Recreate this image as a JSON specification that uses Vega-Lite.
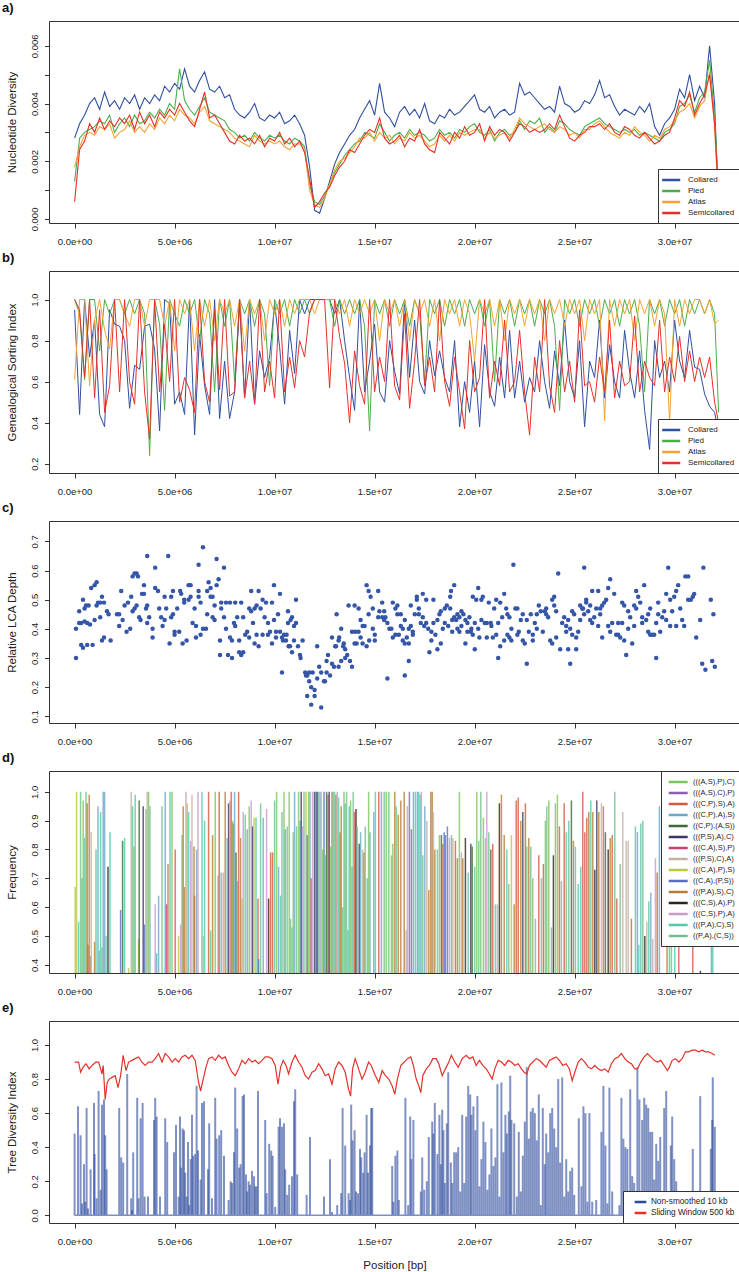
{
"$schema":"https://vega.github.io/schema/vega-lite/v6.json",
"background":"white",
"padding":{"left":1,"top":1,"right":0,"bottom":0},
"bounds":"flush",
"spacing":48,
"resolve":{"scale":{"color":"independent"},"legend":{"color":"independent"}},
"config":{
"font":"Liberation Sans",
"view":{"stroke":"#333","strokeWidth":1},
"axis":{"domain":false,"grid":false,"tickColor":"#333","labelColor":"#222","titleColor":"#222","labelFontSize":9.5,"titleFontSize":11.5,"titleFontWeight":"normal"},
"axisX":{"tickSize":5,"labelPadding":8,"titlePadding":14,"labelFlush":false,"labelOverlap":false},
"axisY":{"tickSize":4.5,"labelPadding":5,"labelAngle":-90,"labelAlign":"center","labelBaseline":"bottom","titlePadding":12,"labelOverlap":false,"labelFlush":false},
"title":{"fontSize":13,"fontWeight":"bold","anchor":"start","frame":"group","baseline":"alphabetic","offset":6,"color":"#111"},
"legend":{"strokeColor":"#333","fillColor":"white","padding":5,"labelFontSize":8,"labelColor":"#222","symbolSize":90,"symbolStrokeWidth":2.5,"rowPadding":-1.8,"offset":0,"symbolOpacity":1,"labelLimit":300}
},
"vconcat":[
{
"width":691,"height":202,
"title":{"text":"a)","dx":-47},
"data":{"values":[
{"x":0,"C":0.0028,"P":0.0013,"A":0.0018,"S":0.0006},
{"x":0.25,"C":0.0033,"P":0.0028,"A":0.0025,"S":0.0024},
{"x":0.5,"C":0.0036,"P":0.003,"A":0.0029,"S":0.0027},
{"x":0.75,"C":0.004,"P":0.0031,"A":0.003,"S":0.0033},
{"x":1,"C":0.0042,"P":0.0032,"A":0.0029,"S":0.003},
{"x":1.25,"C":0.0038,"P":0.0034,"A":0.0032,"S":0.0035},
{"x":1.5,"C":0.0044,"P":0.0033,"A":0.0031,"S":0.0031},
{"x":1.75,"C":0.0039,"P":0.0036,"A":0.0033,"S":0.0034},
{"x":2,"C":0.0041,"P":0.003,"A":0.0028,"S":0.0032},
{"x":2.25,"C":0.0038,"P":0.0033,"A":0.003,"S":0.0035},
{"x":2.5,"C":0.0042,"P":0.0035,"A":0.0031,"S":0.0033},
{"x":2.75,"C":0.004,"P":0.0032,"A":0.0034,"S":0.0036},
{"x":3,"C":0.0043,"P":0.0036,"A":0.003,"S":0.0031},
{"x":3.25,"C":0.0038,"P":0.0033,"A":0.0032,"S":0.0037},
{"x":3.5,"C":0.0042,"P":0.0034,"A":0.003,"S":0.0033},
{"x":3.75,"C":0.004,"P":0.0037,"A":0.0033,"S":0.0036},
{"x":4,"C":0.0043,"P":0.0035,"A":0.0031,"S":0.0032},
{"x":4.25,"C":0.0041,"P":0.0038,"A":0.0035,"S":0.0037},
{"x":4.5,"C":0.0046,"P":0.0036,"A":0.0033,"S":0.0035},
{"x":4.75,"C":0.0044,"P":0.004,"A":0.0036,"S":0.0038},
{"x":5,"C":0.0047,"P":0.0038,"A":0.0034,"S":0.0036},
{"x":5.25,"C":0.0045,"P":0.0052,"A":0.0038,"S":0.004},
{"x":5.5,"C":0.0052,"P":0.0041,"A":0.0036,"S":0.0037},
{"x":5.75,"C":0.0046,"P":0.0038,"A":0.0035,"S":0.0034},
{"x":6,"C":0.0044,"P":0.0036,"A":0.0033,"S":0.0032},
{"x":6.25,"C":0.0048,"P":0.0039,"A":0.0037,"S":0.0038},
{"x":6.5,"C":0.0051,"P":0.0042,"A":0.0039,"S":0.0044},
{"x":6.75,"C":0.0045,"P":0.0037,"A":0.0034,"S":0.0035},
{"x":7,"C":0.0044,"P":0.0036,"A":0.0033,"S":0.0036},
{"x":7.25,"C":0.0046,"P":0.0035,"A":0.0032,"S":0.0033},
{"x":7.5,"C":0.0042,"P":0.0034,"A":0.0031,"S":0.003},
{"x":7.75,"C":0.0043,"P":0.0031,"A":0.003,"S":0.0027},
{"x":8,"C":0.0038,"P":0.003,"A":0.0028,"S":0.0026},
{"x":8.25,"C":0.0036,"P":0.0028,"A":0.0027,"S":0.0029},
{"x":8.5,"C":0.0035,"P":0.0029,"A":0.0026,"S":0.0027},
{"x":8.75,"C":0.0037,"P":0.0027,"A":0.0025,"S":0.0028},
{"x":9,"C":0.004,"P":0.003,"A":0.0029,"S":0.0026},
{"x":9.25,"C":0.0035,"P":0.0028,"A":0.0027,"S":0.0029},
{"x":9.5,"C":0.0034,"P":0.0027,"A":0.0026,"S":0.0025},
{"x":9.75,"C":0.0036,"P":0.0029,"A":0.0027,"S":0.0028},
{"x":10,"C":0.0035,"P":0.0028,"A":0.0026,"S":0.0027},
{"x":10.25,"C":0.0037,"P":0.0029,"A":0.0027,"S":0.003},
{"x":10.5,"C":0.0033,"P":0.0027,"A":0.0025,"S":0.0026},
{"x":10.75,"C":0.0034,"P":0.0026,"A":0.0024,"S":0.0028},
{"x":11,"C":0.0036,"P":0.0028,"A":0.0026,"S":0.0025},
{"x":11.25,"C":0.0033,"P":0.0027,"A":0.0026,"S":0.0027},
{"x":11.5,"C":0.0029,"P":0.0025,"A":0.0024,"S":0.0023},
{"x":11.75,"C":0.0018,"P":0.0012,"A":0.001,"S":0.0014},
{"x":12,"C":0.0003,"P":0.0006,"A":0.0005,"S":0.0004},
{"x":12.25,"C":0.0002,"P":0.0005,"A":0.0004,"S":0.0006},
{"x":12.5,"C":0.0007,"P":0.0008,"A":0.0007,"S":0.0009},
{"x":12.75,"C":0.0013,"P":0.0012,"A":0.0012,"S":0.0011},
{"x":13,"C":0.0019,"P":0.0016,"A":0.0017,"S":0.0015},
{"x":13.25,"C":0.0023,"P":0.0019,"A":0.002,"S":0.0018},
{"x":13.5,"C":0.0026,"P":0.0022,"A":0.0021,"S":0.002},
{"x":13.75,"C":0.0029,"P":0.0024,"A":0.0023,"S":0.0024},
{"x":14,"C":0.0031,"P":0.0026,"A":0.0025,"S":0.0023},
{"x":14.25,"C":0.0035,"P":0.0027,"A":0.0028,"S":0.0026},
{"x":14.5,"C":0.0038,"P":0.003,"A":0.0028,"S":0.0029},
{"x":14.75,"C":0.0041,"P":0.0029,"A":0.003,"S":0.0031},
{"x":15,"C":0.0036,"P":0.0028,"A":0.0027,"S":0.003},
{"x":15.25,"C":0.0047,"P":0.0033,"A":0.003,"S":0.0035},
{"x":15.5,"C":0.0037,"P":0.003,"A":0.0028,"S":0.0028},
{"x":15.75,"C":0.0035,"P":0.0027,"A":0.0029,"S":0.0026},
{"x":16,"C":0.0032,"P":0.0029,"A":0.0026,"S":0.0027},
{"x":16.25,"C":0.0037,"P":0.003,"A":0.0028,"S":0.0029},
{"x":16.5,"C":0.0039,"P":0.0028,"A":0.0027,"S":0.0025},
{"x":16.75,"C":0.0036,"P":0.0031,"A":0.003,"S":0.0028},
{"x":17,"C":0.0038,"P":0.0029,"A":0.0028,"S":0.0027},
{"x":17.25,"C":0.0035,"P":0.003,"A":0.0029,"S":0.0031},
{"x":17.5,"C":0.004,"P":0.0029,"A":0.0027,"S":0.0026},
{"x":17.75,"C":0.0034,"P":0.0027,"A":0.0025,"S":0.0024},
{"x":18,"C":0.0033,"P":0.0028,"A":0.0026,"S":0.0023},
{"x":18.25,"C":0.0036,"P":0.0031,"A":0.0029,"S":0.003},
{"x":18.5,"C":0.0035,"P":0.0029,"A":0.0027,"S":0.0028},
{"x":18.75,"C":0.0038,"P":0.003,"A":0.0029,"S":0.0026},
{"x":19,"C":0.0036,"P":0.0028,"A":0.0027,"S":0.003},
{"x":19.25,"C":0.0037,"P":0.0031,"A":0.003,"S":0.0028},
{"x":19.5,"C":0.0039,"P":0.003,"A":0.0029,"S":0.0032},
{"x":19.75,"C":0.0041,"P":0.0032,"A":0.003,"S":0.0029},
{"x":20,"C":0.0043,"P":0.0033,"A":0.0031,"S":0.003},
{"x":20.25,"C":0.0038,"P":0.003,"A":0.0031,"S":0.0033},
{"x":20.5,"C":0.0037,"P":0.0029,"A":0.0028,"S":0.0027},
{"x":20.75,"C":0.0039,"P":0.0031,"A":0.003,"S":0.0032},
{"x":21,"C":0.0035,"P":0.0027,"A":0.0028,"S":0.0029},
{"x":21.25,"C":0.0037,"P":0.003,"A":0.0029,"S":0.0031},
{"x":21.5,"C":0.0038,"P":0.0031,"A":0.003,"S":0.003},
{"x":21.75,"C":0.0036,"P":0.0029,"A":0.0028,"S":0.0027},
{"x":22,"C":0.0037,"P":0.003,"A":0.0031,"S":0.003},
{"x":22.25,"C":0.0047,"P":0.0034,"A":0.0035,"S":0.0033},
{"x":22.5,"C":0.0043,"P":0.0031,"A":0.0033,"S":0.0032},
{"x":22.75,"C":0.0044,"P":0.0034,"A":0.0032,"S":0.003},
{"x":23,"C":0.0042,"P":0.0033,"A":0.0031,"S":0.0031},
{"x":23.25,"C":0.004,"P":0.0035,"A":0.0032,"S":0.003},
{"x":23.5,"C":0.0038,"P":0.003,"A":0.0033,"S":0.0031},
{"x":23.75,"C":0.0039,"P":0.0032,"A":0.0031,"S":0.0033},
{"x":24,"C":0.0037,"P":0.003,"A":0.003,"S":0.0031},
{"x":24.25,"C":0.0046,"P":0.0034,"A":0.0032,"S":0.0036},
{"x":24.5,"C":0.004,"P":0.0033,"A":0.0031,"S":0.0032},
{"x":24.75,"C":0.0039,"P":0.0031,"A":0.0029,"S":0.0028},
{"x":25,"C":0.0037,"P":0.003,"A":0.003,"S":0.0027},
{"x":25.25,"C":0.0038,"P":0.0029,"A":0.0028,"S":0.0029},
{"x":25.5,"C":0.0041,"P":0.0032,"A":0.0031,"S":0.003},
{"x":25.75,"C":0.004,"P":0.0033,"A":0.0031,"S":0.0032},
{"x":26,"C":0.0043,"P":0.0034,"A":0.0033,"S":0.0032},
{"x":26.25,"C":0.0048,"P":0.0035,"A":0.0034,"S":0.0033},
{"x":26.5,"C":0.0042,"P":0.0033,"A":0.0032,"S":0.0031},
{"x":26.75,"C":0.0043,"P":0.0032,"A":0.003,"S":0.0033},
{"x":27,"C":0.0039,"P":0.0031,"A":0.0029,"S":0.003},
{"x":27.25,"C":0.0036,"P":0.003,"A":0.0028,"S":0.0029},
{"x":27.5,"C":0.0038,"P":0.0031,"A":0.003,"S":0.0032},
{"x":27.75,"C":0.0037,"P":0.003,"A":0.0029,"S":0.0031},
{"x":28,"C":0.0036,"P":0.0031,"A":0.0032,"S":0.0029},
{"x":28.25,"C":0.0039,"P":0.0029,"A":0.003,"S":0.0028},
{"x":28.5,"C":0.0037,"P":0.003,"A":0.0029,"S":0.003},
{"x":28.75,"C":0.004,"P":0.0029,"A":0.0027,"S":0.0028},
{"x":29,"C":0.0032,"P":0.0028,"A":0.0029,"S":0.0026},
{"x":29.25,"C":0.0029,"P":0.0027,"A":0.0028,"S":0.0027},
{"x":29.5,"C":0.0033,"P":0.003,"A":0.0031,"S":0.0029},
{"x":29.75,"C":0.0035,"P":0.0031,"A":0.0032,"S":0.003},
{"x":30,"C":0.0038,"P":0.0033,"A":0.0034,"S":0.0035},
{"x":30.25,"C":0.0045,"P":0.0039,"A":0.0037,"S":0.0041},
{"x":30.5,"C":0.0042,"P":0.004,"A":0.0038,"S":0.0039},
{"x":30.75,"C":0.005,"P":0.0043,"A":0.004,"S":0.0044},
{"x":31,"C":0.0041,"P":0.0037,"A":0.0035,"S":0.0036},
{"x":31.25,"C":0.0046,"P":0.0042,"A":0.0039,"S":0.004},
{"x":31.5,"C":0.0042,"P":0.0044,"A":0.0041,"S":0.0043},
{"x":31.75,"C":0.006,"P":0.0055,"A":0.0051,"S":0.005},
{"x":32,"C":0.004,"P":0.0035,"A":0.0032,"S":0.0033},
{"x":32.2,"C":0.0003,"P":0.001,"A":0.0003,"S":0.0008}
]},
"transform":[{"fold":["C","P","A","S"],"as":["k","v"]}],
"mark":{"type":"line","strokeWidth":1.1,"clip":true},
"encoding":{
"x":{"field":"x","type":"quantitative","scale":{"domain":[-1.28,33.27],"nice":false,"zero":false},"axis":{"title":null,"values":[0,5,10,15,20,25,30],"labelExpr":"replace(format(datum.value*1000000,'.1e'),'e+','e+0')"}},
"y":{"field":"v","type":"quantitative","scale":{"domain":[-0.00014,0.00686],"nice":false,"zero":false},"axis":{"title":"Nucleotide Diversity","values":[0,0.001,0.002,0.003,0.004,0.005,0.006],"labelExpr":"round(datum.value*1000)%2==0?format(datum.value,'.3f'):''"}},
"color":{"field":"k","type":"nominal","scale":{"domain":["C","P","A","S"],"range":["#2f4f9f","#4cae4a","#f4a332","#e6302b"]},"legend":{"title":null,"orient":"bottom-right","symbolType":"M-1.9,0H1.9","symbolOffset":2.2,"labelOffset":10.8,"labelExpr":"datum.value=='C'?'Collared':datum.value=='P'?'Pied':datum.value=='A'?'Atlas':'Semicollared'"}}
}
},
{
"width":691,"height":202,
"title":{"text":"b)","dx":-47},
"data":{"values":[
{"x":0,"C":0.95,"P":1,"A":0.61,"S":1},
{"x":0.25,"C":0.44,"P":0.93,"A":1,"S":0.95},
{"x":0.5,"C":1,"P":0.61,"A":1,"S":0.62},
{"x":0.75,"C":0.72,"P":1,"A":0.58,"S":1},
{"x":1,"C":0.9,"P":1,"A":0.9,"S":0.52},
{"x":1.25,"C":0.44,"P":0.75,"A":1,"S":0.95},
{"x":1.5,"C":0.38,"P":1,"A":0.85,"S":0.45},
{"x":1.75,"C":0.95,"P":0.93,"A":0.76,"S":0.58},
{"x":2,"C":0.88,"P":1,"A":1,"S":1},
{"x":2.25,"C":0.87,"P":1,"A":1,"S":0.55},
{"x":2.5,"C":0.8,"P":0.93,"A":0.93,"S":1},
{"x":2.75,"C":0.47,"P":1,"A":0.87,"S":0.6},
{"x":3,"C":0.68,"P":0.93,"A":1,"S":0.49},
{"x":3.25,"C":0.66,"P":1,"A":1,"S":1},
{"x":3.5,"C":0.87,"P":0.93,"A":0.87,"S":0.55},
{"x":3.75,"C":0.88,"P":0.24,"A":1,"S":0.32},
{"x":4,"C":0.76,"P":1,"A":1,"S":1},
{"x":4.25,"C":0.36,"P":0.88,"A":1,"S":0.55},
{"x":4.5,"C":1,"P":0.46,"A":0.87,"S":0.88},
{"x":4.75,"C":0.98,"P":1,"A":1,"S":0.6},
{"x":5,"C":0.49,"P":0.93,"A":0.75,"S":1},
{"x":5.25,"C":0.55,"P":0.87,"A":1,"S":0.5},
{"x":5.5,"C":0.44,"P":1,"A":0.93,"S":0.62},
{"x":5.75,"C":1,"P":0.93,"A":1,"S":0.56},
{"x":6,"C":0.34,"P":1,"A":0.75,"S":0.45},
{"x":6.25,"C":0.83,"P":0.8,"A":1,"S":1},
{"x":6.5,"C":0.58,"P":1,"A":0.87,"S":0.6},
{"x":6.75,"C":0.44,"P":0.93,"A":1,"S":0.5},
{"x":7,"C":1,"P":0.55,"A":0.8,"S":0.95},
{"x":7.25,"C":0.42,"P":1,"A":1,"S":0.56},
{"x":7.5,"C":0.7,"P":0.87,"A":0.93,"S":1},
{"x":7.75,"C":0.42,"P":1,"A":1,"S":0.53},
{"x":8,"C":0.55,"P":0.6,"A":0.87,"S":0.55},
{"x":8.25,"C":0.98,"P":1,"A":1,"S":1},
{"x":8.5,"C":0.52,"P":0.93,"A":0.75,"S":0.52},
{"x":8.75,"C":1,"P":1,"A":1,"S":0.7},
{"x":9,"C":0.49,"P":0.87,"A":0.93,"S":0.49},
{"x":9.25,"C":0.75,"P":1,"A":1,"S":1},
{"x":9.5,"C":0.62,"P":0.93,"A":0.8,"S":0.55},
{"x":9.75,"C":0.72,"P":0.58,"A":1,"S":0.7},
{"x":10,"C":0.98,"P":1,"A":0.93,"S":0.52},
{"x":10.25,"C":0.77,"P":0.93,"A":1,"S":1},
{"x":10.5,"C":0.49,"P":1,"A":0.87,"S":0.55},
{"x":10.75,"C":0.85,"P":0.87,"A":1,"S":0.72},
{"x":11,"C":0.64,"P":1,"A":0.93,"S":0.57},
{"x":11.25,"C":1,"P":0.93,"A":1,"S":0.8},
{"x":11.5,"C":0.93,"P":1,"A":1,"S":0.72},
{"x":11.75,"C":1,"P":0.93,"A":1,"S":0.94},
{"x":12,"C":1,"P":1,"A":0.93,"S":1},
{"x":12.25,"C":1,"P":1,"A":1,"S":1},
{"x":12.5,"C":1,"P":1,"A":1,"S":1},
{"x":12.75,"C":1,"P":1,"A":1,"S":0.57},
{"x":13,"C":0.93,"P":0.87,"A":1,"S":1},
{"x":13.25,"C":1,"P":1,"A":0.93,"S":0.82},
{"x":13.5,"C":0.8,"P":0.93,"A":1,"S":0.69},
{"x":13.75,"C":0.62,"P":1,"A":0.87,"S":0.4},
{"x":14,"C":0.46,"P":0.93,"A":1,"S":0.75},
{"x":14.25,"C":1,"P":1,"A":0.93,"S":0.58},
{"x":14.5,"C":0.55,"P":0.87,"A":1,"S":0.49},
{"x":14.75,"C":0.7,"P":0.36,"A":0.93,"S":1},
{"x":15,"C":0.88,"P":1,"A":1,"S":0.55},
{"x":15.25,"C":0.55,"P":0.93,"A":0.8,"S":0.72},
{"x":15.5,"C":0.5,"P":1,"A":1,"S":0.6},
{"x":15.75,"C":0.8,"P":0.87,"A":0.93,"S":1},
{"x":16,"C":0.65,"P":1,"A":1,"S":0.58},
{"x":16.25,"C":0.54,"P":0.93,"A":0.87,"S":0.51},
{"x":16.5,"C":1,"P":1,"A":1,"S":0.93},
{"x":16.75,"C":0.62,"P":0.87,"A":0.8,"S":0.47},
{"x":17,"C":0.9,"P":1,"A":1,"S":0.7},
{"x":17.25,"C":0.6,"P":0.93,"A":0.93,"S":1},
{"x":17.5,"C":0.54,"P":0.6,"A":1,"S":0.58},
{"x":17.75,"C":0.8,"P":1,"A":0.87,"S":0.72},
{"x":18,"C":0.63,"P":0.93,"A":1,"S":0.55},
{"x":18.25,"C":0.75,"P":1,"A":0.8,"S":1},
{"x":18.5,"C":0.62,"P":0.87,"A":1,"S":0.6},
{"x":18.75,"C":0.55,"P":1,"A":0.93,"S":0.48},
{"x":19,"C":0.8,"P":0.93,"A":1,"S":0.72},
{"x":19.25,"C":0.38,"P":1,"A":0.87,"S":0.55},
{"x":19.5,"C":0.6,"P":0.87,"A":1,"S":0.37},
{"x":19.75,"C":0.45,"P":1,"A":0.93,"S":0.8},
{"x":20,"C":0.7,"P":0.93,"A":0.7,"S":0.55},
{"x":20.25,"C":0.38,"P":1,"A":1,"S":0.62},
{"x":20.5,"C":0.78,"P":0.87,"A":0.93,"S":1},
{"x":20.75,"C":0.55,"P":1,"A":1,"S":0.52},
{"x":21,"C":0.48,"P":0.6,"A":0.87,"S":0.7},
{"x":21.25,"C":0.72,"P":1,"A":1,"S":0.58},
{"x":21.5,"C":0.52,"P":0.93,"A":0.8,"S":0.9},
{"x":21.75,"C":0.85,"P":1,"A":1,"S":0.55},
{"x":22,"C":0.52,"P":0.87,"A":0.93,"S":0.6},
{"x":22.25,"C":0.7,"P":1,"A":1,"S":0.85},
{"x":22.5,"C":0.5,"P":0.93,"A":0.87,"S":0.55},
{"x":22.75,"C":0.62,"P":1,"A":1,"S":0.34},
{"x":23,"C":0.55,"P":0.87,"A":0.93,"S":0.72},
{"x":23.25,"C":0.8,"P":1,"A":1,"S":0.55},
{"x":23.5,"C":0.6,"P":0.93,"A":0.8,"S":1},
{"x":23.75,"C":0.47,"P":1,"A":1,"S":0.58},
{"x":24,"C":0.75,"P":0.87,"A":0.93,"S":0.45},
{"x":24.25,"C":0.58,"P":0.46,"A":1,"S":0.8},
{"x":24.5,"C":0.9,"P":1,"A":0.87,"S":0.55},
{"x":24.75,"C":0.6,"P":0.93,"A":1,"S":0.7},
{"x":25,"C":0.52,"P":1,"A":0.93,"S":0.5},
{"x":25.25,"C":0.8,"P":0.87,"A":1,"S":0.95},
{"x":25.5,"C":0.38,"P":1,"A":0.8,"S":0.58},
{"x":25.75,"C":0.7,"P":0.93,"A":1,"S":0.6},
{"x":26,"C":0.62,"P":1,"A":0.93,"S":0.5},
{"x":26.25,"C":0.9,"P":0.87,"A":1,"S":0.72},
{"x":26.5,"C":0.52,"P":1,"A":0.41,"S":0.55},
{"x":26.75,"C":0.78,"P":0.93,"A":1,"S":0.9},
{"x":27,"C":0.6,"P":1,"A":0.87,"S":0.52},
{"x":27.25,"C":0.52,"P":0.87,"A":1,"S":0.7},
{"x":27.5,"C":0.85,"P":1,"A":0.93,"S":0.58},
{"x":27.75,"C":0.65,"P":0.93,"A":1,"S":0.6},
{"x":28,"C":0.52,"P":1,"A":0.8,"S":0.92},
{"x":28.25,"C":0.75,"P":0.87,"A":1,"S":0.55},
{"x":28.5,"C":0.46,"P":0.55,"A":0.93,"S":0.7},
{"x":28.75,"C":0.27,"P":1,"A":1,"S":0.62},
{"x":29,"C":0.8,"P":0.93,"A":0.87,"S":0.58},
{"x":29.25,"C":0.62,"P":1,"A":1,"S":0.9},
{"x":29.5,"C":0.7,"P":0.87,"A":0.93,"S":0.55},
{"x":29.75,"C":0.55,"P":1,"A":0.4,"S":0.72},
{"x":30,"C":0.9,"P":0.93,"A":1,"S":0.6},
{"x":30.25,"C":0.7,"P":1,"A":0.87,"S":0.82},
{"x":30.5,"C":0.62,"P":0.87,"A":1,"S":0.6},
{"x":30.75,"C":0.85,"P":1,"A":0.93,"S":0.75},
{"x":31,"C":0.67,"P":0.93,"A":1,"S":0.6},
{"x":31.25,"C":0.66,"P":1,"A":1,"S":0.72},
{"x":31.5,"C":0.54,"P":0.93,"A":0.93,"S":0.62},
{"x":31.75,"C":0.48,"P":1,"A":1,"S":0.72},
{"x":32,"C":0.45,"P":0.93,"A":0.88,"S":0.5},
{"x":32.2,"C":0.36,"P":0.45,"A":0.9,"S":0.4}
]},
"transform":[{"fold":["C","P","A","S"],"as":["k","v"]}],
"mark":{"type":"line","strokeWidth":1,"clip":true},
"encoding":{
"x":{"field":"x","type":"quantitative","scale":{"domain":[-1.28,33.27],"nice":false,"zero":false},"axis":{"title":null,"values":[0,5,10,15,20,25,30],"labelExpr":"replace(format(datum.value*1000000,'.1e'),'e+','e+0')"}},
"y":{"field":"v","type":"quantitative","scale":{"domain":[0.155,1.139],"nice":false,"zero":false},"axis":{"title":"Genealogical Sorting Index","values":[0.2,0.4,0.6,0.8,1.0],"format":".1f"}},
"color":{"field":"k","type":"nominal","scale":{"domain":["C","P","A","S"],"range":["#2f4f9f","#4cae4a","#f4a332","#e6302b"]},"legend":{"title":null,"orient":"bottom-right","symbolType":"M-1.9,0H1.9","symbolOffset":2.2,"labelOffset":10.8,"labelExpr":"datum.value=='C'?'Collared':datum.value=='P'?'Pied':datum.value=='A'?'Atlas':'Semicollared'"}}
}
},
{
"width":691,"height":202,
"title":{"text":"c)","dx":-47},
"data":{"values":[
{"x":0.07,"y":0.40},{"x":0.07,"y":0.30},{"x":0.23,"y":0.42},{"x":0.23,"y":0.46},{"x":0.33,"y":0.345},{"x":0.33,"y":0.42},{"x":0.42,"y":0.335},{"x":0.42,"y":0.50},{"x":0.5,"y":0.425},{"x":0.5,"y":0.47},{"x":0.57,"y":0.48},{"x":0.63,"y":0.42},{"x":0.63,"y":0.345},{"x":0.7,"y":0.48},{"x":0.77,"y":0.415},{"x":0.83,"y":0.54},{"x":0.9,"y":0.345},{"x":1.0,"y":0.43},{"x":1.0,"y":0.55},{"x":1.1,"y":0.48},{"x":1.1,"y":0.56},{"x":1.17,"y":0.49},{"x":1.28,"y":0.44},{"x":1.28,"y":0.49},{"x":1.37,"y":0.36},{"x":1.37,"y":0.51},{"x":1.47,"y":0.37},{"x":1.47,"y":0.49},{"x":1.62,"y":0.46},{"x":1.7,"y":0.45},{"x":1.8,"y":0.36},{"x":2.12,"y":0.45},{"x":2.23,"y":0.41},{"x":2.23,"y":0.45},{"x":2.33,"y":0.53},{"x":2.4,"y":0.43},{"x":2.5,"y":0.48},{"x":2.6,"y":0.39},{"x":2.67,"y":0.49},{"x":2.78,"y":0.40},{"x":2.83,"y":0.51},{"x":2.9,"y":0.58},{"x":2.9,"y":0.46},{"x":3.0,"y":0.59},{"x":3.0,"y":0.47},{"x":3.1,"y":0.59},{"x":3.1,"y":0.48},{"x":3.17,"y":0.58},{"x":3.23,"y":0.44},{"x":3.3,"y":0.43},{"x":3.37,"y":0.52},{"x":3.47,"y":0.52},{"x":3.47,"y":0.55},{"x":3.57,"y":0.47},{"x":3.63,"y":0.65},{"x":3.63,"y":0.42},{"x":3.63,"y":0.48},{"x":3.73,"y":0.44},{"x":3.9,"y":0.37},{"x":3.9,"y":0.40},{"x":4.03,"y":0.61},{"x":4.03,"y":0.54},{"x":4.17,"y":0.53},{"x":4.23,"y":0.47},{"x":4.33,"y":0.44},{"x":4.4,"y":0.41},{"x":4.5,"y":0.51},{"x":4.5,"y":0.43},{"x":4.58,"y":0.47},{"x":4.68,"y":0.65},{"x":4.75,"y":0.35},{"x":4.83,"y":0.51},{"x":4.83,"y":0.44},{"x":4.92,"y":0.53},{"x":4.92,"y":0.45},{"x":5.0,"y":0.39},{"x":5.0,"y":0.38},{"x":5.13,"y":0.47},{"x":5.23,"y":0.39},{"x":5.28,"y":0.53},{"x":5.33,"y":0.52},{"x":5.4,"y":0.35},{"x":5.48,"y":0.50},{"x":5.48,"y":0.49},{"x":5.6,"y":0.36},{"x":5.7,"y":0.50},{"x":5.7,"y":0.55},{"x":5.8,"y":0.51},{"x":5.8,"y":0.55},{"x":5.9,"y":0.42},{"x":6.0,"y":0.47},{"x":6.07,"y":0.37},{"x":6.07,"y":0.41},{"x":6.2,"y":0.62},{"x":6.2,"y":0.53},{"x":6.2,"y":0.51},{"x":6.3,"y":0.38},{"x":6.3,"y":0.49},{"x":6.42,"y":0.68},{"x":6.42,"y":0.40},{"x":6.57,"y":0.40},{"x":6.63,"y":0.45},{"x":6.63,"y":0.53},{"x":6.7,"y":0.56},{"x":6.8,"y":0.51},{"x":6.8,"y":0.54},{"x":6.9,"y":0.44},{"x":6.9,"y":0.51},{"x":7.0,"y":0.48},{"x":7.0,"y":0.43},{"x":7.1,"y":0.64},{"x":7.1,"y":0.55},{"x":7.2,"y":0.57},{"x":7.27,"y":0.31},{"x":7.27,"y":0.36},{"x":7.33,"y":0.47},{"x":7.33,"y":0.49},{"x":7.47,"y":0.61},{"x":7.47,"y":0.44},{"x":7.57,"y":0.40},{"x":7.57,"y":0.49},{"x":7.67,"y":0.31},{"x":7.77,"y":0.37},{"x":7.77,"y":0.49},{"x":7.87,"y":0.30},{"x":7.87,"y":0.36},{"x":7.97,"y":0.42},{"x":8.03,"y":0.49},{"x":8.03,"y":0.41},{"x":8.13,"y":0.44},{"x":8.23,"y":0.32},{"x":8.23,"y":0.36},{"x":8.33,"y":0.31},{"x":8.33,"y":0.49},{"x":8.43,"y":0.32},{"x":8.43,"y":0.44},{"x":8.53,"y":0.38},{"x":8.63,"y":0.39},{"x":8.73,"y":0.47},{"x":8.73,"y":0.37},{"x":8.83,"y":0.46},{"x":8.83,"y":0.53},{"x":8.92,"y":0.42},{"x":9.0,"y":0.35},{"x":9.0,"y":0.47},{"x":9.1,"y":0.48},{"x":9.1,"y":0.38},{"x":9.2,"y":0.34},{"x":9.2,"y":0.53},{"x":9.3,"y":0.47},{"x":9.4,"y":0.38},{"x":9.4,"y":0.50},{"x":9.5,"y":0.44},{"x":9.57,"y":0.49},{"x":9.67,"y":0.38},{"x":9.67,"y":0.42},{"x":9.77,"y":0.39},{"x":9.87,"y":0.49},{"x":9.87,"y":0.35},{"x":9.97,"y":0.55},{"x":9.97,"y":0.43},{"x":10.07,"y":0.39},{"x":10.07,"y":0.37},{"x":10.17,"y":0.45},{"x":10.27,"y":0.52},{"x":10.27,"y":0.39},{"x":10.37,"y":0.25},{"x":10.37,"y":0.37},{"x":10.42,"y":0.36},{"x":10.47,"y":0.38},{"x":10.57,"y":0.36},{"x":10.6,"y":0.38},{"x":10.67,"y":0.46},{"x":10.67,"y":0.42},{"x":10.7,"y":0.34},{"x":10.77,"y":0.34},{"x":10.8,"y":0.43},{"x":10.87,"y":0.32},{"x":10.87,"y":0.44},{"x":10.97,"y":0.36},{"x":10.97,"y":0.41},{"x":11.07,"y":0.50},{"x":11.07,"y":0.42},{"x":11.17,"y":0.34},{"x":11.27,"y":0.31},{"x":11.3,"y":0.30},{"x":11.4,"y":0.36},{"x":11.53,"y":0.25},{"x":11.57,"y":0.24},{"x":11.63,"y":0.17},{"x":11.63,"y":0.24},{"x":11.73,"y":0.25},{"x":11.73,"y":0.22},{"x":11.83,"y":0.20},{"x":11.83,"y":0.14},{"x":11.9,"y":0.25},{"x":12.0,"y":0.19},{"x":12.0,"y":0.17},{"x":12.13,"y":0.34},{"x":12.13,"y":0.23},{"x":12.23,"y":0.27},{"x":12.33,"y":0.13},{"x":12.33,"y":0.25},{"x":12.47,"y":0.22},{"x":12.52,"y":0.22},{"x":12.6,"y":0.25},{"x":12.6,"y":0.29},{"x":12.67,"y":0.31},{"x":12.77,"y":0.24},{"x":12.87,"y":0.37},{"x":12.87,"y":0.28},{"x":12.97,"y":0.27},{"x":13.03,"y":0.34},{"x":13.07,"y":0.34},{"x":13.1,"y":0.45},{"x":13.2,"y":0.36},{"x":13.23,"y":0.37},{"x":13.2,"y":0.27},{"x":13.33,"y":0.29},{"x":13.33,"y":0.40},{"x":13.43,"y":0.34},{"x":13.46,"y":0.35},{"x":13.53,"y":0.33},{"x":13.53,"y":0.30},{"x":13.63,"y":0.31},{"x":13.7,"y":0.48},{"x":13.77,"y":0.29},{"x":13.87,"y":0.39},{"x":13.87,"y":0.27},{"x":14.0,"y":0.35},{"x":14.0,"y":0.48},{"x":14.03,"y":0.39},{"x":14.1,"y":0.35},{"x":14.2,"y":0.47},{"x":14.2,"y":0.39},{"x":14.3,"y":0.43},{"x":14.3,"y":0.37},{"x":14.4,"y":0.41},{"x":14.4,"y":0.35},{"x":14.5,"y":0.41},{"x":14.6,"y":0.34},{"x":14.6,"y":0.55},{"x":14.7,"y":0.45},{"x":14.7,"y":0.53},{"x":14.73,"y":0.36},{"x":14.8,"y":0.51},
{"x":14.91,"y":0.47},{"x":14.91,"y":0.40},{"x":15.01,"y":0.38},{"x":15.01,"y":0.36},{"x":15.18,"y":0.53},{"x":15.18,"y":0.44},{"x":15.24,"y":0.46},{"x":15.38,"y":0.44},{"x":15.38,"y":0.49},{"x":15.48,"y":0.46},{"x":15.48,"y":0.43},{"x":15.54,"y":0.44},{"x":15.64,"y":0.42},{"x":15.64,"y":0.23},{"x":15.74,"y":0.40},{"x":15.84,"y":0.40},{"x":15.91,"y":0.49},{"x":15.91,"y":0.37},{"x":16.04,"y":0.38},{"x":16.04,"y":0.47},{"x":16.14,"y":0.48},{"x":16.14,"y":0.45},{"x":16.21,"y":0.38},{"x":16.31,"y":0.45},{"x":16.31,"y":0.41},{"x":16.41,"y":0.40},{"x":16.41,"y":0.36},{"x":16.51,"y":0.35},{"x":16.51,"y":0.43},{"x":16.51,"y":0.24},{"x":16.61,"y":0.37},{"x":16.71,"y":0.40},{"x":16.71,"y":0.35},{"x":16.71,"y":0.29},{"x":16.81,"y":0.48},{"x":16.81,"y":0.41},{"x":16.91,"y":0.38},{"x":16.91,"y":0.39},{"x":17.01,"y":0.45},{"x":17.11,"y":0.50},{"x":17.11,"y":0.51},{"x":17.21,"y":0.47},{"x":17.21,"y":0.45},{"x":17.31,"y":0.42},{"x":17.41,"y":0.52},{"x":17.41,"y":0.44},{"x":17.48,"y":0.41},{"x":17.58,"y":0.50},{"x":17.58,"y":0.42},{"x":17.68,"y":0.40},{"x":17.74,"y":0.32},{"x":17.84,"y":0.39},{"x":17.84,"y":0.36},{"x":17.94,"y":0.50},{"x":17.94,"y":0.42},{"x":18.04,"y":0.38},{"x":18.14,"y":0.43},{"x":18.14,"y":0.33},{"x":18.24,"y":0.45},{"x":18.31,"y":0.46},{"x":18.31,"y":0.35},{"x":18.41,"y":0.40},{"x":18.51,"y":0.42},{"x":18.51,"y":0.47},{"x":18.61,"y":0.48},{"x":18.68,"y":0.41},{"x":18.78,"y":0.47},{"x":18.78,"y":0.51},{"x":18.82,"y":0.53},{"x":18.88,"y":0.43},{"x":18.88,"y":0.39},{"x":18.98,"y":0.55},{"x":18.98,"y":0.44},{"x":19.08,"y":0.43},{"x":19.14,"y":0.45},{"x":19.14,"y":0.40},{"x":19.24,"y":0.44},{"x":19.24,"y":0.39},{"x":19.34,"y":0.41},{"x":19.34,"y":0.46},{"x":19.44,"y":0.45},{"x":19.54,"y":0.35},{"x":19.54,"y":0.43},{"x":19.64,"y":0.42},{"x":19.64,"y":0.39},{"x":19.74,"y":0.44},{"x":19.81,"y":0.39},{"x":19.84,"y":0.40},{"x":19.91,"y":0.51},{"x":19.91,"y":0.38},{"x":20.01,"y":0.42},{"x":20.01,"y":0.33},{"x":20.08,"y":0.50},{"x":20.18,"y":0.54},{"x":20.18,"y":0.40},{"x":20.24,"y":0.37},{"x":20.34,"y":0.50},{"x":20.34,"y":0.43},{"x":20.41,"y":0.51},{"x":20.51,"y":0.42},{"x":20.61,"y":0.42},{"x":20.61,"y":0.37},{"x":20.71,"y":0.49},{"x":20.81,"y":0.42},{"x":20.84,"y":0.41},{"x":20.91,"y":0.37},{"x":20.98,"y":0.47},{"x":21.08,"y":0.50},{"x":21.08,"y":0.38},{"x":21.18,"y":0.42},{"x":21.18,"y":0.30},{"x":21.28,"y":0.34},{"x":21.28,"y":0.49},{"x":21.38,"y":0.44},{"x":21.48,"y":0.52},{"x":21.48,"y":0.36},{"x":21.58,"y":0.47},{"x":21.64,"y":0.45},{"x":21.64,"y":0.38},{"x":21.74,"y":0.44},{"x":21.74,"y":0.37},{"x":21.84,"y":0.40},{"x":21.84,"y":0.36},{"x":21.94,"y":0.62},{"x":22.04,"y":0.47},{"x":22.14,"y":0.47},{"x":22.14,"y":0.38},{"x":22.21,"y":0.39},{"x":22.31,"y":0.43},{"x":22.41,"y":0.45},{"x":22.41,"y":0.36},{"x":22.51,"y":0.35},{"x":22.61,"y":0.28},{"x":22.61,"y":0.43},{"x":22.71,"y":0.39},{"x":22.81,"y":0.45},{"x":22.91,"y":0.38},{"x":22.91,"y":0.36},{"x":23.01,"y":0.42},{"x":23.11,"y":0.45},{"x":23.11,"y":0.40},{"x":23.21,"y":0.48},{"x":23.31,"y":0.46},{"x":23.41,"y":0.39},{"x":23.51,"y":0.46},{"x":23.58,"y":0.45},{"x":23.58,"y":0.47},{"x":23.68,"y":0.44},{"x":23.78,"y":0.36},{"x":23.88,"y":0.50},{"x":23.88,"y":0.35},{"x":23.98,"y":0.48},{"x":23.98,"y":0.51},{"x":24.08,"y":0.46},{"x":24.08,"y":0.37},{"x":24.18,"y":0.59},{"x":24.28,"y":0.33},{"x":24.38,"y":0.42},{"x":24.48,"y":0.44},{"x":24.58,"y":0.39},{"x":24.58,"y":0.41},{"x":24.68,"y":0.43},{"x":24.68,"y":0.33},{"x":24.78,"y":0.40},{"x":24.78,"y":0.28},{"x":24.88,"y":0.46},{"x":24.88,"y":0.38},{"x":24.98,"y":0.45},{"x":25.08,"y":0.37},{"x":25.08,"y":0.33},{"x":25.18,"y":0.39},{"x":25.28,"y":0.43},{"x":25.28,"y":0.48},{"x":25.38,"y":0.47},{"x":25.42,"y":0.47},{"x":25.48,"y":0.61},{"x":25.48,"y":0.45},{"x":25.58,"y":0.50},{"x":25.58,"y":0.49},{"x":25.68,"y":0.46},{"x":25.78,"y":0.48},{"x":25.78,"y":0.43},{"x":25.88,"y":0.53},{"x":25.88,"y":0.42},{"x":25.98,"y":0.44},{"x":26.08,"y":0.47},{"x":26.18,"y":0.53},{"x":26.18,"y":0.41},{"x":26.28,"y":0.45},{"x":26.28,"y":0.47},{"x":26.38,"y":0.37},{"x":26.38,"y":0.48},{"x":26.48,"y":0.49},{"x":26.58,"y":0.50},{"x":26.68,"y":0.54},{"x":26.68,"y":0.41},{"x":26.78,"y":0.57},{"x":26.78,"y":0.39},{"x":26.88,"y":0.42},{"x":26.98,"y":0.52},{"x":27.08,"y":0.38},{"x":27.18,"y":0.42},{"x":27.18,"y":0.38},{"x":27.28,"y":0.37},{"x":27.38,"y":0.49},{"x":27.38,"y":0.42},{"x":27.48,"y":0.48},{"x":27.48,"y":0.36},{"x":27.58,"y":0.31},{"x":27.68,"y":0.46},{"x":27.68,"y":0.40},{"x":27.78,"y":0.44},{"x":27.88,"y":0.35},{"x":27.98,"y":0.48},{"x":27.98,"y":0.41},{"x":28.08,"y":0.53},{"x":28.08,"y":0.47},{"x":28.18,"y":0.51},{"x":28.28,"y":0.49},{"x":28.38,"y":0.42},{"x":28.38,"y":0.44},{"x":28.48,"y":0.55},{"x":28.58,"y":0.43},{"x":28.68,"y":0.45},{"x":28.68,"y":0.39},{"x":28.78,"y":0.38},{"x":28.78,"y":0.47},{"x":28.88,"y":0.38},{"x":28.98,"y":0.38},{"x":29.08,"y":0.42},{"x":29.08,"y":0.30},{"x":29.18,"y":0.49},{"x":29.18,"y":0.45},{"x":29.28,"y":0.39},{"x":29.38,"y":0.44},{"x":29.48,"y":0.46},{"x":29.58,"y":0.52},{"x":29.58,"y":0.43},{"x":29.68,"y":0.61},{"x":29.78,"y":0.50},{"x":29.78,"y":0.41},{"x":29.88,"y":0.46},{"x":29.98,"y":0.51},{"x":30.08,"y":0.53},{"x":30.08,"y":0.41},{"x":30.18,"y":0.55},{"x":30.28,"y":0.47},{"x":30.38,"y":0.43},{"x":30.48,"y":0.41},{"x":30.54,"y":0.58},{"x":30.68,"y":0.58},{"x":30.68,"y":0.50},{"x":30.81,"y":0.50},{"x":30.91,"y":0.51},{"x":30.98,"y":0.52},{"x":31.08,"y":0.37},{"x":31.28,"y":0.43},{"x":31.38,"y":0.28},{"x":31.44,"y":0.61},{"x":31.54,"y":0.26},{"x":31.81,"y":0.50},{"x":31.88,"y":0.29},{"x":31.94,"y":0.45},{"x":32.01,"y":0.27}
]},
"mark":{"type":"point","filled":true,"size":20,"opacity":1,"color":"#3556a6"},
"encoding":{
"x":{"field":"x","type":"quantitative","scale":{"domain":[-1.28,33.27],"nice":false,"zero":false},"axis":{"title":null,"values":[0,5,10,15,20,25,30],"labelExpr":"replace(format(datum.value*1000000,'.1e'),'e+','e+0')"}},
"y":{"field":"y","type":"quantitative","scale":{"domain":[0.077,0.770],"nice":false,"zero":false},"axis":{"title":"Relative LCA Depth","values":[0.1,0.2,0.3,0.4,0.5,0.6,0.7],"format":".1f"}}
}
},
{
"width":691,"height":202,
"title":{"text":"d)","dx":-47},
"data":{"values":[
{"x":0.03,"v":0.67,"t":9},{"x":0.1,"v":1,"t":9},{"x":0.2,"v":0.55,"t":14},{"x":0.3,"v":1,"t":15},{"x":0.37,"v":0.7,"t":14},{"x":0.43,"v":0.97,"t":1},{"x":0.5,"v":0.84,"t":14},{"x":0.57,"v":1,"t":15},{"x":0.63,"v":0.96,"t":11},{"x":0.67,"v":0.47,"t":3},{"x":0.73,"v":0.99,"t":11},{"x":0.8,"v":0.43,"t":11},{"x":0.83,"v":0.86,"t":8},{"x":1,"v":0.48,"t":11},{"x":1.07,"v":0.8,"t":14},{"x":1.17,"v":0.95,"t":4},{"x":1.23,"v":0.45,"t":14},{"x":1.3,"v":0.93,"t":14},{"x":1.37,"v":0.46,"t":15},{"x":1.43,"v":1,"t":4},{"x":1.5,"v":1,"t":4},{"x":1.57,"v":0.5,"t":14},{"x":1.67,"v":0.74,"t":12},{"x":1.77,"v":0.86,"t":14},{"x":2.3,"v":0.59,"t":10},{"x":2.4,"v":0.83,"t":5},{"x":2.5,"v":0.84,"t":14},{"x":2.7,"v":0.39,"t":9},{"x":2.83,"v":1,"t":8},{"x":2.9,"v":0.95,"t":15},{"x":2.97,"v":0.81,"t":1},{"x":3.03,"v":0.99,"t":14},{"x":3.2,"v":0.49,"t":9},{"x":3.23,"v":0.97,"t":5},{"x":3.43,"v":0.95,"t":6},{"x":3.5,"v":0.54,"t":10},{"x":3.57,"v":0.94,"t":15},{"x":3.63,"v":1,"t":8},{"x":3.7,"v":1,"t":1},{"x":3.77,"v":0.95,"t":15},{"x":4.03,"v":0.61,"t":13},{"x":4.1,"v":0.44,"t":4},{"x":4.2,"v":0.64,"t":4},{"x":4.37,"v":0.95,"t":15},{"x":4.53,"v":1,"t":4},{"x":4.6,"v":0.61,"t":7},{"x":4.67,"v":0.75,"t":11},{"x":4.77,"v":1,"t":14},{"x":4.87,"v":1,"t":1},{"x":5.03,"v":0.8,"t":3},{"x":5.2,"v":0.5,"t":9},{"x":5.3,"v":0.54,"t":13},{"x":5.37,"v":0.85,"t":15},{"x":5.43,"v":0.95,"t":11},{"x":5.5,"v":0.67,"t":11},{"x":5.57,"v":1,"t":13},{"x":5.63,"v":0.96,"t":9},{"x":5.7,"v":0.93,"t":14},{"x":5.8,"v":0.83,"t":13},{"x":5.87,"v":0.99,"t":8},{"x":5.97,"v":0.81,"t":11},{"x":6,"v":0.64,"t":11},{"x":6.1,"v":0.8,"t":4},{"x":6.17,"v":1,"t":13},{"x":6.37,"v":1,"t":14},{"x":6.43,"v":0.5,"t":8},{"x":6.5,"v":0.9,"t":14},{"x":6.7,"v":1,"t":3},{"x":6.8,"v":0.52,"t":14},{"x":6.9,"v":0.85,"t":11},{"x":7.03,"v":1,"t":1},{"x":7.17,"v":0.71,"t":13},{"x":7.23,"v":1,"t":3},{"x":7.33,"v":0.72,"t":14},{"x":7.43,"v":0.72,"t":13},{"x":7.53,"v":1,"t":11},{"x":7.63,"v":0.84,"t":15},{"x":7.7,"v":0.96,"t":6},{"x":7.77,"v":0.97,"t":13},{"x":7.83,"v":1,"t":3},{"x":7.9,"v":0.9,"t":1},{"x":7.93,"v":0.89,"t":11},{"x":8,"v":1,"t":4},{"x":8.07,"v":0.79,"t":5},{"x":8.13,"v":0.69,"t":4},{"x":8.2,"v":1,"t":3},{"x":8.3,"v":0.84,"t":11},{"x":8.37,"v":0.63,"t":9},{"x":8.43,"v":0.93,"t":13},{"x":8.53,"v":0.92,"t":15},{"x":8.63,"v":0.87,"t":4},{"x":8.73,"v":0.95,"t":1},{"x":8.83,"v":0.97,"t":13},{"x":8.9,"v":0.88,"t":6},{"x":8.97,"v":0.91,"t":9},{"x":9.07,"v":0.91,"t":14},{"x":9.17,"v":0.63,"t":3},{"x":9.2,"v":0.42,"t":10},{"x":9.3,"v":0.96,"t":15},{"x":9.43,"v":0.91,"t":4},{"x":9.6,"v":0.94,"t":13},{"x":9.7,"v":0.63,"t":12},{"x":9.8,"v":0.79,"t":3},{"x":9.9,"v":0.79,"t":3},{"x":10,"v":0.97,"t":15},{"x":10.1,"v":1,"t":1},{"x":10.2,"v":0.74,"t":4},{"x":10.3,"v":0.64,"t":14},{"x":10.37,"v":0.93,"t":15},{"x":10.47,"v":1,"t":1},{"x":10.53,"v":0.87,"t":4},{"x":10.63,"v":0.88,"t":15},{"x":10.73,"v":1,"t":1},{"x":10.8,"v":0.56,"t":15},{"x":10.87,"v":0.53,"t":14},{"x":10.93,"v":0.86,"t":1},{"x":11,"v":1,"t":4},{"x":11.1,"v":0.88,"t":15},{"x":11.2,"v":1,"t":1},{"x":11.27,"v":0.9,"t":14},{"x":11.33,"v":1,"t":6},{"x":11.4,"v":0.88,"t":13},{"x":11.47,"v":1,"t":15},{"x":11.57,"v":1,"t":9},{"x":11.63,"v":0.85,"t":10},{"x":11.7,"v":1,"t":1},{"x":11.77,"v":1,"t":4},{"x":11.83,"v":0.7,"t":3},{"x":11.9,"v":1,"t":13},{"x":12,"v":1,"t":6},{"x":12.07,"v":1,"t":10},{"x":12.13,"v":1,"t":6},{"x":12.2,"v":1,"t":15},{"x":12.27,"v":1,"t":14},{"x":12.33,"v":1,"t":13},{"x":12.4,"v":0.8,"t":1},{"x":12.47,"v":1,"t":10},{"x":12.53,"v":0.78,"t":15},{"x":12.6,"v":1,"t":5},{"x":12.67,"v":0.99,"t":3},{"x":12.73,"v":1,"t":6},{"x":12.8,"v":0.81,"t":1},{"x":12.87,"v":1,"t":11},{"x":12.93,"v":1,"t":14},{"x":13,"v":1,"t":15},{"x":13.07,"v":0.99,"t":11},{"x":13.13,"v":1,"t":13},{"x":13.2,"v":0.98,"t":14},{"x":13.27,"v":0.86,"t":11},{"x":13.33,"v":0.95,"t":11},{"x":13.4,"v":0.6,"t":15},{"x":13.47,"v":1,"t":1},{"x":13.53,"v":0.96,"t":14},{"x":13.6,"v":1,"t":15},{"x":13.67,"v":0.52,"t":15},{"x":13.73,"v":0.95,"t":14},{"x":13.8,"v":0.97,"t":1},{"x":13.87,"v":0.74,"t":14},{"x":13.93,"v":1,"t":15},{"x":14,"v":0.93,"t":3},{"x":14.07,"v":0.94,"t":12},{"x":14.13,"v":0.88,"t":15},{"x":14.23,"v":0.82,"t":6},{"x":14.3,"v":0.86,"t":4},{"x":14.4,"v":0.8,"t":8},{"x":14.47,"v":0.79,"t":11},{"x":14.53,"v":0.88,"t":15},{"x":14.63,"v":0.7,"t":14},{"x":14.7,"v":1,"t":1},{"x":14.77,"v":0.86,"t":4},
{"x":14.96,"v":0.93,"t":4},{"x":15.04,"v":1,"t":14},{"x":15.21,"v":1,"t":3},{"x":15.34,"v":1,"t":4},{"x":15.48,"v":1,"t":15},{"x":15.58,"v":1,"t":1},{"x":15.71,"v":1,"t":15},{"x":15.84,"v":0.78,"t":15},{"x":15.91,"v":0.82,"t":1},{"x":16.01,"v":1,"t":11},{"x":16.08,"v":0.95,"t":15},{"x":16.18,"v":0.92,"t":11},{"x":16.31,"v":0.97,"t":11},{"x":16.48,"v":1,"t":11},{"x":16.58,"v":0.52,"t":8},{"x":16.64,"v":0.95,"t":13},{"x":16.74,"v":1,"t":2},{"x":16.84,"v":0.87,"t":2},{"x":16.94,"v":1,"t":4},{"x":17.04,"v":1,"t":14},{"x":17.14,"v":1,"t":4},{"x":17.21,"v":1,"t":14},{"x":17.28,"v":0.99,"t":14},{"x":17.34,"v":1,"t":13},{"x":17.41,"v":0.78,"t":15},{"x":17.51,"v":0.95,"t":4},{"x":17.61,"v":0.9,"t":8},{"x":17.71,"v":0.66,"t":11},{"x":17.81,"v":1,"t":11},{"x":17.88,"v":1,"t":11},{"x":17.94,"v":0.93,"t":8},{"x":18.01,"v":0.8,"t":11},{"x":18.14,"v":0.8,"t":15},{"x":18.24,"v":0.85,"t":1},{"x":18.34,"v":0.85,"t":5},{"x":18.41,"v":0.82,"t":11},{"x":18.48,"v":0.86,"t":10},{"x":18.54,"v":0.85,"t":10},{"x":18.64,"v":0.88,"t":10},{"x":18.74,"v":0.84,"t":13},{"x":18.84,"v":0.85,"t":15},{"x":18.91,"v":0.84,"t":8},{"x":19.04,"v":0.83,"t":3},{"x":19.14,"v":0.77,"t":11},{"x":19.24,"v":1,"t":1},{"x":19.34,"v":0.79,"t":13},{"x":19.41,"v":0.77,"t":11},{"x":19.54,"v":0.84,"t":12},{"x":19.68,"v":0.72,"t":14},{"x":19.81,"v":0.82,"t":6},{"x":19.88,"v":0.81,"t":5},{"x":20.01,"v":0.74,"t":14},{"x":20.11,"v":1,"t":1},{"x":20.21,"v":0.83,"t":15},{"x":20.31,"v":1,"t":15},{"x":20.44,"v":0.91,"t":1},{"x":20.54,"v":0.84,"t":13},{"x":20.61,"v":1,"t":13},{"x":20.71,"v":0.86,"t":15},{"x":20.81,"v":0.8,"t":5},{"x":20.91,"v":0.82,"t":3},{"x":21.04,"v":0.61,"t":14},{"x":21.14,"v":0.61,"t":13},{"x":21.24,"v":0.96,"t":12},{"x":21.34,"v":0.99,"t":11},{"x":21.48,"v":0.85,"t":11},{"x":21.61,"v":0.8,"t":14},{"x":21.71,"v":0.68,"t":15},{"x":21.84,"v":0.85,"t":9},{"x":21.98,"v":0.61,"t":11},{"x":22.08,"v":0.97,"t":3},{"x":22.18,"v":0.98,"t":3},{"x":22.31,"v":0.9,"t":11},{"x":22.41,"v":0.93,"t":6},{"x":22.54,"v":0.96,"t":3},{"x":22.61,"v":0.81,"t":15},{"x":22.71,"v":0.84,"t":11},{"x":22.81,"v":0.81,"t":15},{"x":22.91,"v":0.7,"t":1},{"x":23.04,"v":0.56,"t":15},{"x":23.21,"v":0.78,"t":3},{"x":23.34,"v":0.7,"t":14},{"x":23.44,"v":0.75,"t":3},{"x":23.54,"v":0.9,"t":1},{"x":23.61,"v":0.95,"t":15},{"x":23.71,"v":0.97,"t":1},{"x":23.84,"v":0.53,"t":15},{"x":23.94,"v":0.78,"t":12},{"x":24.04,"v":0.96,"t":15},{"x":24.14,"v":0.99,"t":1},{"x":24.24,"v":0.88,"t":3},{"x":24.34,"v":0.69,"t":15},{"x":24.48,"v":0.96,"t":3},{"x":24.58,"v":0.86,"t":15},{"x":24.71,"v":0.9,"t":14},{"x":24.84,"v":0.97,"t":5},{"x":24.94,"v":0.83,"t":11},{"x":25.04,"v":0.81,"t":15},{"x":25.18,"v":0.68,"t":14},{"x":25.31,"v":0.74,"t":14},{"x":25.41,"v":1,"t":3},{"x":25.51,"v":0.86,"t":3},{"x":25.61,"v":0.91,"t":3},{"x":25.71,"v":0.93,"t":11},{"x":25.81,"v":0.97,"t":14},{"x":25.91,"v":0.93,"t":11},{"x":26.01,"v":0.73,"t":12},{"x":26.11,"v":0.97,"t":6},{"x":26.21,"v":0.93,"t":11},{"x":26.34,"v":0.96,"t":8},{"x":26.44,"v":0.95,"t":11},{"x":26.54,"v":0.86,"t":5},{"x":26.68,"v":0.8,"t":12},{"x":26.78,"v":0.84,"t":11},{"x":26.88,"v":0.85,"t":3},{"x":27.01,"v":1,"t":15},{"x":27.11,"v":0.63,"t":3},{"x":27.28,"v":0.75,"t":15},{"x":27.41,"v":0.93,"t":8},{"x":27.58,"v":0.83,"t":8},{"x":27.68,"v":0.83,"t":8},{"x":27.84,"v":0.56,"t":3},{"x":28.04,"v":0.88,"t":14},{"x":28.14,"v":0.86,"t":4},{"x":28.21,"v":0.47,"t":14},{"x":28.31,"v":0.89,"t":14},{"x":28.41,"v":0.9,"t":15},{"x":28.51,"v":0.5,"t":12},{"x":28.61,"v":0.55,"t":8},{"x":28.71,"v":0.62,"t":14},{"x":28.81,"v":0.65,"t":4},{"x":28.91,"v":0.49,"t":8},{"x":29.04,"v":0.77,"t":13},{"x":29.13,"v":0.72,"t":3},{"x":29.24,"v":0.95,"t":4},{"x":29.62,"v":0.95,"t":11},{"x":29.74,"v":0.9,"t":14},{"x":29.84,"v":0.95,"t":15},{"x":30.01,"v":0.92,"t":14},{"x":30.21,"v":0.95,"t":3},{"x":30.91,"v":0.9,"t":3},{"x":31.29,"v":0.38,"t":12},{"x":31.84,"v":0.95,"t":4},{"x":31.91,"v":0.92,"t":14}
]},
"mark":{"type":"rule","strokeWidth":1.5,"opacity":0.8,"clip":true},
"encoding":{
"x":{"field":"x","type":"quantitative","scale":{"domain":[-1.28,33.27],"nice":false,"zero":false},"axis":{"title":null,"values":[0,5,10,15,20,25,30],"labelExpr":"replace(format(datum.value*1000000,'.1e'),'e+','e+0')"}},
"y":{"field":"v","type":"quantitative","scale":{"domain":[0.372,1.072],"nice":false,"zero":false},"axis":{"title":"Frequency","values":[0.4,0.5,0.6,0.7,0.8,0.9,1.0],"format":".1f"}},
"y2":{"datum":0.2},
"color":{"field":"t","type":"nominal","scale":{"domain":[1,2,3,4,5,6,7,8,9,10,11,12,13,14,15],"range":["#7cc65a","#8d5fb3","#d45a3f","#6aa8c9","#3d6b33","#3a3866","#c93f70","#c2b2a2","#b9c93b","#5b6fc2","#b97b35","#2f2420","#c99bc9","#52c9a8","#6fc18c"]},"legend":{"title":null,"orient":"top-right","labelFontSize":7.5,"rowPadding":-1.5,"symbolType":"M-2,0H2","symbolOffset":6.2,"labelOffset":8.9,"labelExpr":"['(((A,S),P),C)','(((A,S),C),P)','(((C,P),S),A)','(((C,P),A),S)','((C,P),(A,S))','(((P,S),A),C)','(((C,A),S),P)','(((P,S),C),A)','(((C,A),P),S)','((C,A),(P,S))','(((P,A),S),C)','(((C,S),A),P)','(((C,S),P),A)','(((P,A),C),S)','((P,A),(C,S))'][datum.value-1]"}}
}
},
{
"width":691,"height":202,
"title":{"text":"e)","dx":-47},
"layer":[
{
"data":{"values":[
{"x":0,"v":0.48},{"x":0.17,"v":0.64},{"x":0.3,"v":0.47},{"x":0.37,"v":0.07},{"x":0.47,"v":0.3},{"x":0.53,"v":0.08},{"x":0.6,"v":0.63},{"x":0.67,"v":0.04},{"x":0.8,"v":0.27},{"x":0.97,"v":0.66},{"x":1,"v":0.36},{"x":1.1,"v":0.1},{"x":1.2,"v":0.73},{"x":1.3,"v":0.15},{"x":1.37,"v":0.65},{"x":1.47,"v":0.68},{"x":1.53,"v":0.47},{"x":1.6,"v":0.27},{"x":2.23,"v":0.63},{"x":2.33,"v":0.34},{"x":2.43,"v":0.31},{"x":2.63,"v":0.83},{"x":2.83,"v":0.1},{"x":2.87,"v":0.03},{"x":2.93,"v":0.37},{"x":3.13,"v":0.69},{"x":3.2,"v":0.1},{"x":3.3,"v":0.57},{"x":3.4,"v":0.66},{"x":3.5,"v":0.11},{"x":3.67,"v":0.11},{"x":3.97,"v":0.56},{"x":4.03,"v":0.69},{"x":4.1,"v":0.58},{"x":4.27,"v":0.11},{"x":4.53,"v":0.57},{"x":4.63,"v":0.43},{"x":4.97,"v":0.37},{"x":5.07,"v":0.53},{"x":5.2,"v":0.11},{"x":5.27,"v":0.58},{"x":5.33,"v":0.28},{"x":5.4,"v":0.51},{"x":5.47,"v":0.5},{"x":5.53,"v":0.25},{"x":5.6,"v":0.11},{"x":5.67,"v":0.43},{"x":5.73,"v":0.06},{"x":5.8,"v":0.33},{"x":5.87,"v":0.59},{"x":5.93,"v":0.35},{"x":6.03,"v":0.36},{"x":6.1,"v":0.76},{"x":6.17,"v":0.38},{"x":6.3,"v":0.21},{"x":6.37,"v":0.66},{"x":6.47,"v":0.67},{"x":6.67,"v":0.27},{"x":6.73,"v":0.54},{"x":6.87,"v":0.1},{"x":7.03,"v":0.69},{"x":7.1,"v":0.45},{"x":7.23,"v":0.47},{"x":7.33,"v":0.5},{"x":7.47,"v":0.35},{"x":7.7,"v":0.09},{"x":7.8,"v":0.2},{"x":7.87,"v":0.19},{"x":7.97,"v":0.37},{"x":8.03,"v":0.75},{"x":8.13,"v":0.51},{"x":8.23,"v":0.28},{"x":8.3,"v":0.3},{"x":8.4,"v":0.7},{"x":8.47,"v":0.71},{"x":8.57,"v":0.24},{"x":8.63,"v":0.14},{"x":8.7,"v":0.2},{"x":8.77,"v":0.18},{"x":8.87,"v":0.26},{"x":8.97,"v":0.23},{"x":9.03,"v":0.17},{"x":9.1,"v":0.17},{"x":9.17,"v":0.73},{"x":9.53,"v":0.56},{"x":9.6,"v":0.13},{"x":9.73,"v":0.42},{"x":9.83,"v":0.38},{"x":9.9,"v":0.35},{"x":10.03,"v":0.05},{"x":10.2,"v":0.52},{"x":10.27,"v":0.57},{"x":10.37,"v":0.52},{"x":10.47,"v":0.54},{"x":10.53,"v":0.27},{"x":10.63,"v":0.12},{"x":10.73,"v":0.18},{"x":10.87,"v":0.23},{"x":10.97,"v":0.67},{"x":11.03,"v":0.74},{"x":11.13,"v":0.24},{"x":11.6,"v":0.12},{"x":11.77,"v":0.46},{"x":12.47,"v":0.11},{"x":12.77,"v":0.33},{"x":12.87,"v":0.02},{"x":13.13,"v":0.06},{"x":13.33,"v":0.13},{"x":13.4,"v":0.63},{"x":13.53,"v":0.41},{"x":13.7,"v":0.13},{"x":13.77,"v":0.09},{"x":13.83,"v":0.65},{"x":13.9,"v":0.44},{"x":14,"v":0.5},{"x":14.07,"v":0.14},{"x":14.17,"v":0.13},{"x":14.27,"v":0.39},{"x":14.33,"v":0.34},{"x":14.43,"v":0.25},{"x":14.5,"v":0.37},{"x":14.6,"v":0.59},{"x":14.67,"v":0.25},{"x":14.77,"v":0.41},{"x":14.83,"v":0.63},
{"x":14.88,"v":0.63},{"x":15.88,"v":0.29},{"x":15.94,"v":0.08},{"x":16.04,"v":0.35},{"x":16.14,"v":0.38},{"x":16.21,"v":0.09},{"x":16.54,"v":0.69},{"x":16.68,"v":0.06},{"x":16.78,"v":0.58},{"x":16.84,"v":0.33},{"x":16.94,"v":0.56},{"x":17.31,"v":0.14},{"x":17.38,"v":0.34},{"x":17.48,"v":0.15},{"x":17.61,"v":0.2},{"x":17.71,"v":0.46},{"x":17.88,"v":0.55},{"x":17.94,"v":0.48},{"x":18.01,"v":0.66},{"x":18.14,"v":0.36},{"x":18.24,"v":0.59},{"x":18.31,"v":0.3},{"x":18.38,"v":0.62},{"x":18.44,"v":0.5},{"x":18.51,"v":0.19},{"x":18.61,"v":0.54},{"x":18.68,"v":0.84},{"x":18.81,"v":0.31},{"x":18.88,"v":0.19},{"x":18.98,"v":0.37},{"x":19.08,"v":0.37},{"x":19.18,"v":0.4},{"x":19.28,"v":0.14},{"x":19.38,"v":0.59},{"x":19.48,"v":0.19},{"x":19.58,"v":0.58},{"x":19.68,"v":0.76},{"x":19.78,"v":0.71},{"x":19.84,"v":0.59},{"x":19.94,"v":0.64},{"x":20.04,"v":0.5},{"x":20.14,"v":0.7},{"x":20.24,"v":0.17},{"x":20.34,"v":0.33},{"x":20.44,"v":0.55},{"x":20.54,"v":0.43},{"x":20.64,"v":0.15},{"x":20.74,"v":0.24},{"x":20.84,"v":0.51},{"x":20.94,"v":0.29},{"x":21.04,"v":0.34},{"x":21.14,"v":0.77},{"x":21.24,"v":0.11},{"x":21.34,"v":0.78},{"x":21.44,"v":0.37},{"x":21.54,"v":0.59},{"x":21.61,"v":0.48},{"x":21.71,"v":0.61},{"x":21.78,"v":0.82},{"x":21.84,"v":0.56},{"x":21.98,"v":0.54},{"x":22.11,"v":0.11},{"x":22.21,"v":0.49},{"x":22.31,"v":0.14},{"x":22.41,"v":0.35},{"x":22.51,"v":0.55},{"x":22.61,"v":0.87},{"x":22.71,"v":0.45},{"x":22.81,"v":0.61},{"x":22.91,"v":0.63},{"x":23.01,"v":0.6},{"x":23.11,"v":0.44},{"x":23.21,"v":0.71},{"x":23.31,"v":0.06},{"x":23.41,"v":0.63},{"x":23.51,"v":0.3},{"x":23.58,"v":0.48},{"x":23.68,"v":0.37},{"x":23.78,"v":0.6},{"x":23.88,"v":0.63},{"x":23.98,"v":0.51},{"x":24.08,"v":0.4},{"x":24.18,"v":0.8},{"x":24.28,"v":0.31},{"x":24.38,"v":0.81},{"x":24.48,"v":0.11},{"x":24.58,"v":0.33},{"x":24.68,"v":0.14},{"x":24.78,"v":0.26},{"x":24.88,"v":0.28},{"x":24.98,"v":0.12},{"x":25.21,"v":0.57},{"x":25.34,"v":0.17},{"x":25.44,"v":0.64},{"x":25.54,"v":0.6},{"x":25.64,"v":0.08},{"x":25.74,"v":0.6},{"x":25.88,"v":0.08},{"x":26.08,"v":0.09},{"x":26.34,"v":0.49},{"x":26.44,"v":0.76},{"x":26.54,"v":0.41},{"x":26.64,"v":0.07},{"x":26.74,"v":0.75},{"x":26.88,"v":0.14},{"x":27.24,"v":0.06},{"x":27.34,"v":0.69},{"x":27.44,"v":0.45},{"x":27.54,"v":0.4},{"x":27.64,"v":0.39},{"x":27.78,"v":0.74},{"x":27.88,"v":0.23},{"x":27.98,"v":0.19},{"x":28.08,"v":0.13},{"x":28.14,"v":0.87},{"x":28.24,"v":0.68},{"x":28.38,"v":0.56},{"x":28.48,"v":0.69},{"x":28.58,"v":0.65},{"x":28.68,"v":0.63},{"x":28.78,"v":0.49},{"x":28.88,"v":0.49},{"x":28.98,"v":0.21},{"x":29.08,"v":0.42},{"x":29.18,"v":0.32},{"x":29.28,"v":0.46},{"x":29.38,"v":0.13},{"x":29.48,"v":0.63},{"x":29.58,"v":0.73},{"x":29.68,"v":0.12},{"x":29.81,"v":0.41},{"x":29.88,"v":0.58},{"x":29.98,"v":0.33},{"x":30.08,"v":0.2},{"x":30.91,"v":0.39},{"x":31.28,"v":0.7},{"x":31.81,"v":0.39},{"x":31.88,"v":0.56},{"x":31.91,"v":0.81},{"x":32.01,"v":0.52}
]},
"mark":{"type":"rule","strokeWidth":2,"opacity":0.6,"clip":true},
"encoding":{
"x":{"field":"x","type":"quantitative","scale":{"domain":[-1.28,33.27],"nice":false,"zero":false},"axis":{"title":"Position [bp]","values":[0,5,10,15,20,25,30],"labelExpr":"replace(format(datum.value*1000000,'.1e'),'e+','e+0')"}},
"y":{"field":"v","type":"quantitative","scale":{"domain":[-0.045,1.141],"nice":false,"zero":false},"axis":{"title":"Tree Diversity Index","values":[0,0.2,0.4,0.6,0.8,1.0],"format":".1f"}},
"y2":{"datum":0},
"color":{"datum":"Non-smoothed 10 kb","scale":{"domain":["Non-smoothed 10 kb","Sliding Window 500 kb"],"range":["#2b4a9c","#e5312a"]},"legend":{"title":null,"orient":"bottom-right","labelFontSize":8.25,"symbolType":"M-1.23,0H1.23","symbolOffset":6.5,"labelOffset":4.4}}
}
},
{
"data":{"values":[{}]},
"mark":{"type":"rule","color":"#7d8fc7","strokeWidth":1.5},
"encoding":{"x":{"datum":0},"x2":{"datum":32.2},"y":{"datum":0}}
},
{
"data":{"values":[
{"x":0,"v":0.9},{"x":0.2,"v":0.9},{"x":0.3,"v":0.84},{"x":0.43,"v":0.87},{"x":0.57,"v":0.89},{"x":0.73,"v":0.86},{"x":0.87,"v":0.88},{"x":1.07,"v":0.9},{"x":1.2,"v":0.9},{"x":1.3,"v":0.86},{"x":1.37,"v":0.83},{"x":1.43,"v":0.88},{"x":1.53,"v":0.68},{"x":1.63,"v":0.78},{"x":1.73,"v":0.8},{"x":1.87,"v":0.81},{"x":2.03,"v":0.82},{"x":2.17,"v":0.75},{"x":2.3,"v":0.82},{"x":2.43,"v":0.94},{"x":2.57,"v":0.85},{"x":2.7,"v":0.9},{"x":2.87,"v":0.91},{"x":3.03,"v":0.92},{"x":3.2,"v":0.93},{"x":3.37,"v":0.9},{"x":3.53,"v":0.88},{"x":3.7,"v":0.9},{"x":3.87,"v":0.9},{"x":4.03,"v":0.92},{"x":4.2,"v":0.95},{"x":4.37,"v":0.9},{"x":4.53,"v":0.95},{"x":4.7,"v":0.93},{"x":4.87,"v":0.9},{"x":5.03,"v":0.92},{"x":5.2,"v":0.9},{"x":5.37,"v":0.93},{"x":5.53,"v":0.94},{"x":5.7,"v":0.92},{"x":5.87,"v":0.94},{"x":6.03,"v":0.91},{"x":6.2,"v":0.78},{"x":6.3,"v":0.73},{"x":6.43,"v":0.8},{"x":6.57,"v":0.87},{"x":6.7,"v":0.92},{"x":6.87,"v":0.93},{"x":7.03,"v":0.91},{"x":7.2,"v":0.94},{"x":7.37,"v":0.92},{"x":7.53,"v":0.93},{"x":7.7,"v":0.88},{"x":7.87,"v":0.84},{"x":8.03,"v":0.82},{"x":8.2,"v":0.86},{"x":8.37,"v":0.91},{"x":8.53,"v":0.89},{"x":8.7,"v":0.92},{"x":8.87,"v":0.9},{"x":9.03,"v":0.91},{"x":9.2,"v":0.89},{"x":9.37,"v":0.91},{"x":9.53,"v":0.93},{"x":9.7,"v":0.93},{"x":9.87,"v":0.92},{"x":10.03,"v":0.88},{"x":10.17,"v":0.77},{"x":10.3,"v":0.87},{"x":10.43,"v":0.91},{"x":10.57,"v":0.88},{"x":10.7,"v":0.83},{"x":10.87,"v":0.9},{"x":11.03,"v":0.94},{"x":11.2,"v":0.9},{"x":11.37,"v":0.87},{"x":11.53,"v":0.82},{"x":11.7,"v":0.8},{"x":11.87,"v":0.84},{"x":12.03,"v":0.85},{"x":12.2,"v":0.89},{"x":12.37,"v":0.86},{"x":12.53,"v":0.82},{"x":12.7,"v":0.83},{"x":12.87,"v":0.77},{"x":13.03,"v":0.86},{"x":13.2,"v":0.9},{"x":13.37,"v":0.88},{"x":13.53,"v":0.84},{"x":13.7,"v":0.74},{"x":13.8,"v":0.7},{"x":13.9,"v":0.86},{"x":14.03,"v":0.92},{"x":14.2,"v":0.86},{"x":14.37,"v":0.8},{"x":14.53,"v":0.84},{"x":14.7,"v":0.9},{"x":14.83,"v":0.88},{"x":15.04,"v":0.82},{"x":15.21,"v":0.78},{"x":15.38,"v":0.85},{"x":15.54,"v":0.82},{"x":15.71,"v":0.8},{"x":15.88,"v":0.76},{"x":16.01,"v":0.71},{"x":16.14,"v":0.8},{"x":16.31,"v":0.88},{"x":16.48,"v":0.9},{"x":16.64,"v":0.92},{"x":16.81,"v":0.93},{"x":16.94,"v":0.88},{"x":17.08,"v":0.8},{"x":17.21,"v":0.76},{"x":17.31,"v":0.72},{"x":17.41,"v":0.82},{"x":17.58,"v":0.86},{"x":17.74,"v":0.88},{"x":17.91,"v":0.92},{"x":18.08,"v":0.92},{"x":18.21,"v":0.89},{"x":18.38,"v":0.82},{"x":18.54,"v":0.86},{"x":18.71,"v":0.9},{"x":18.84,"v":0.94},{"x":19.01,"v":0.9},{"x":19.18,"v":0.87},{"x":19.38,"v":0.92},{"x":19.58,"v":0.94},{"x":19.74,"v":0.92},{"x":19.91,"v":0.93},{"x":20.08,"v":0.88},{"x":20.24,"v":0.91},{"x":20.41,"v":0.88},{"x":20.58,"v":0.86},{"x":20.74,"v":0.83},{"x":20.88,"v":0.8},{"x":21.01,"v":0.86},{"x":21.18,"v":0.91},{"x":21.34,"v":0.9},{"x":21.51,"v":0.88},{"x":21.68,"v":0.91},{"x":21.84,"v":0.9},{"x":22.01,"v":0.88},{"x":22.18,"v":0.89},{"x":22.34,"v":0.86},{"x":22.48,"v":0.84},{"x":22.61,"v":0.83},{"x":22.74,"v":0.88},{"x":22.91,"v":0.9},{"x":23.08,"v":0.92},{"x":23.24,"v":0.91},{"x":23.41,"v":0.89},{"x":23.58,"v":0.87},{"x":23.74,"v":0.91},{"x":23.91,"v":0.92},{"x":24.08,"v":0.93},{"x":24.24,"v":0.91},{"x":24.41,"v":0.88},{"x":24.58,"v":0.89},{"x":24.74,"v":0.86},{"x":24.88,"v":0.79},{"x":25.01,"v":0.84},{"x":25.18,"v":0.9},{"x":25.34,"v":0.92},{"x":25.51,"v":0.9},{"x":25.68,"v":0.87},{"x":25.84,"v":0.86},{"x":26.01,"v":0.88},{"x":26.18,"v":0.86},{"x":26.34,"v":0.85},{"x":26.51,"v":0.86},{"x":26.68,"v":0.84},{"x":26.84,"v":0.89},{"x":27.01,"v":0.92},{"x":27.18,"v":0.93},{"x":27.34,"v":0.95},{"x":27.51,"v":0.92},{"x":27.68,"v":0.9},{"x":27.84,"v":0.89},{"x":28.01,"v":0.86},{"x":28.14,"v":0.86},{"x":28.31,"v":0.9},{"x":28.48,"v":0.93},{"x":28.64,"v":0.95},{"x":28.81,"v":0.93},{"x":28.98,"v":0.91},{"x":29.14,"v":0.9},{"x":29.31,"v":0.91},{"x":29.48,"v":0.88},{"x":29.64,"v":0.85},{"x":29.74,"v":0.87},{"x":29.88,"v":0.91},{"x":30.04,"v":0.92},{"x":30.21,"v":0.9},{"x":30.38,"v":0.92},{"x":30.54,"v":0.96},{"x":30.71,"v":0.96},{"x":30.88,"v":0.97},{"x":31.04,"v":0.97},{"x":31.21,"v":0.96},{"x":31.38,"v":0.97},{"x":31.54,"v":0.96},{"x":31.71,"v":0.96},{"x":31.88,"v":0.95},{"x":32.01,"v":0.94}
]},
"mark":{"type":"line","strokeWidth":1.2,"clip":true},
"encoding":{
"x":{"field":"x","type":"quantitative"},
"y":{"field":"v","type":"quantitative"},
"color":{"datum":"Sliding Window 500 kb"}
}
}
]
}
]
}
